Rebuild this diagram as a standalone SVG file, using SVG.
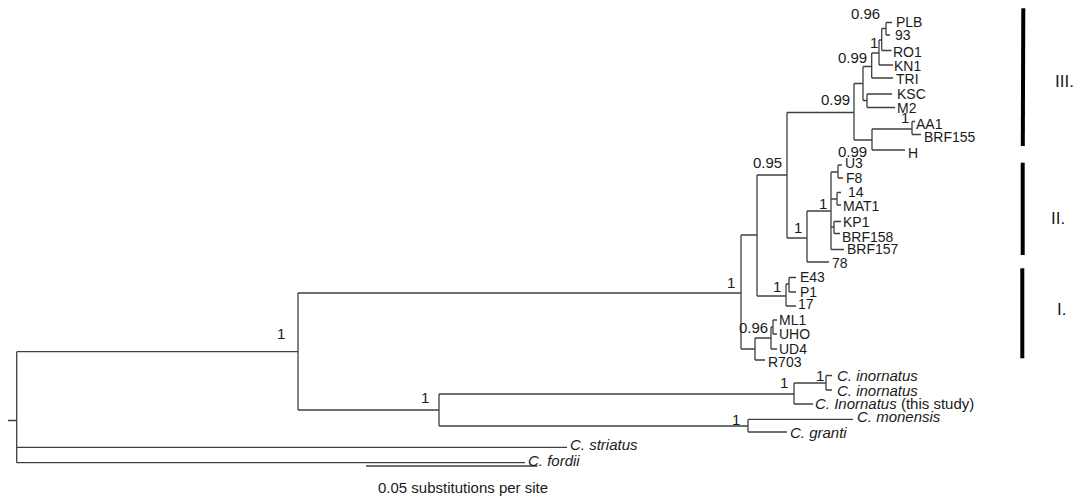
<svg xmlns="http://www.w3.org/2000/svg" width="1079" height="499" viewBox="0 0 1079 499">
<style>
.br{fill:none;stroke:#404040;stroke-width:1.3}
.tip{font-family:"Liberation Sans",Arial,sans-serif;font-size:14px;fill:#1a1a1a}
.sp{font-family:"Liberation Sans",Arial,sans-serif;font-size:15px;font-style:italic;fill:#1a1a1a}
.sup{font-family:"Liberation Sans",Arial,sans-serif;font-size:15px;fill:#1a1a1a}
.sc{font-family:"Liberation Sans",Arial,sans-serif;font-size:15px;fill:#1a1a1a}
.cl{font-family:"Liberation Sans",Arial,sans-serif;font-size:17px;fill:#1a1a1a}
.bar{stroke:#000;stroke-width:4;fill:none}
</style>
<rect width="1079" height="499" fill="#fff"/>
<g id="connectors" class="br">
<path d="M8 420.5H16.7M16.7 351.7V462.7M16.7 351.7H298M16.7 447.3H567M16.7 462.7H525"/>
<path d="M298 293V410M298 293H741M298 410H439M439 394V426M439 394H794M439 426H748"/>
<path d="M794 383V404M794 383H826M794 404H813M826 375.5V390M826 375.5H832M826 390H832"/>
<path d="M748 419.3V432M748 419.3H853M748 432H787"/>
<path d="M741 235V349M741 235H757M741 349H755M755 338V360M755 360H765M755 338H771M771 327V349M771 349H777M771 327H773M773 320V334M773 320H777M773 334H777"/>
<path d="M757 175V296M757 175H787M757 296H786M786 284V306M786 306H796M786 284H789M789 277.5V292M789 277.5H796M789 292H796"/>
<path d="M787 112.5V238M787 112.5H854M787 238H807M807 211V262M807 262H829M807 211H831M831 172V249.5M831 172H838M838 165V178M838 165H842M838 178H843M831 199H837M837 192.5V205M837 192.5H841M837 205H841M831 227H834M834 221.5V233.5M834 221.5H841M834 233.5H840M831 249.5H844"/>
<path d="M854 83.5V140M854 83.5H863M854 140H872M863 66.5V100.5M863 66.5H871.7M863 100.5H867M867 94V107.5M867 94H892M867 107.5H895M871.7 53V78M871.7 78H893M871.7 53H879M879 40V65M879 65H893M879 40H881.7M881.7 28.5V50.5M881.7 50.5H891.5M881.7 28.5H886M886 22.5V35M886 22.5H892M886 35H890M872 129V150M872 150H905M872 129H912M912 121.5V134.5M912 121.5H915M912 134.5H921"/>
<path d="M366 466H537.5"/>
</g>
<g id="tips">
<g id="tip-PLB"><text class="tip" x="896" y="27">PLB</text></g>
<g id="tip-93"><text class="tip" x="895" y="40">93</text></g>
<g id="tip-RO1"><text class="tip" x="893" y="57">RO1</text></g>
<g id="tip-KN1"><text class="tip" x="894" y="71">KN1</text></g>
<g id="tip-TRI"><text class="tip" x="896" y="84">TRI</text></g>
<g id="tip-KSC"><text class="tip" x="897" y="99">KSC</text></g>
<g id="tip-M2"><text class="tip" x="897" y="113">M2</text></g>
<g id="tip-AA1"><text class="tip" x="916" y="129">AA1</text></g>
<g id="tip-BRF155"><text class="tip" x="924" y="142">BRF155</text></g>
<g id="tip-H"><text class="tip" x="908" y="158">H</text></g>
<g id="tip-U3"><text class="tip" x="845" y="168">U3</text></g>
<g id="tip-F8"><text class="tip" x="846" y="183">F8</text></g>
<g id="tip-14"><text class="tip" x="848" y="197">14</text></g>
<g id="tip-MAT1"><text class="tip" x="843" y="211">MAT1</text></g>
<g id="tip-KP1"><text class="tip" x="843" y="227">KP1</text></g>
<g id="tip-BRF158"><text class="tip" x="842" y="242">BRF158</text></g>
<g id="tip-BRF157"><text class="tip" x="847" y="254">BRF157</text></g>
<g id="tip-78"><text class="tip" x="832" y="268">78</text></g>
<g id="tip-E43"><text class="tip" x="800" y="282">E43</text></g>
<g id="tip-P1"><text class="tip" x="800" y="297">P1</text></g>
<g id="tip-17"><text class="tip" x="798" y="309">17</text></g>
<g id="tip-ML1"><text class="tip" x="779" y="325">ML1</text></g>
<g id="tip-UHO"><text class="tip" x="779" y="339">UHO</text></g>
<g id="tip-UD4"><text class="tip" x="779" y="354">UD4</text></g>
<g id="tip-R703"><text class="tip" x="768" y="367">R703</text></g>
<g id="tip-inornatus1"><text class="sp" x="837" y="381">C. inornatus</text></g>
<g id="tip-inornatus2"><text class="sp" x="837" y="396">C. inornatus</text></g>
<g id="tip-inornatus3"><text class="sp" x="815" y="409">C. Inornatus<tspan font-style="normal"> (this study)</tspan></text></g>
<g id="tip-monensis"><text class="sp" x="857" y="422">C. monensis</text></g>
<g id="tip-granti"><text class="sp" x="790" y="438">C. granti</text></g>
<g id="tip-striatus"><text class="sp" x="570" y="450">C. striatus</text></g>
<g id="tip-fordii"><text class="sp" x="528" y="466">C. fordii</text></g>
</g>
<g id="support">
<text class="sup" x="851" y="19">0.96</text>
<text class="sup" x="870" y="48">1</text>
<text class="sup" x="838" y="63">0.99</text>
<text class="sup" x="821" y="105">0.99</text>
<text class="sup" x="901" y="123">1</text>
<text class="sup" x="838" y="157">0.99</text>
<text class="sup" x="753" y="168">0.95</text>
<text class="sup" x="819" y="209">1</text>
<text class="sup" x="794" y="233">1</text>
<text class="sup" x="727" y="288">1</text>
<text class="sup" x="773" y="292">1</text>
<text class="sup" x="739" y="333">0.96</text>
<text class="sup" x="277" y="339">1</text>
<text class="sup" x="421" y="403">1</text>
<text class="sup" x="780" y="388">1</text>
<text class="sup" x="816" y="381">1</text>
<text class="sup" x="732" y="425">1</text>
</g>
<g id="scale"><text class="sc" x="378" y="493">0.05 substitutions per site</text></g>
<g id="clade-III"><path class="bar" d="M1023.3 8.3L1022.8 146"/><text class="cl" x="1055" y="87">III.</text></g>
<g id="clade-II"><path class="bar" d="M1022.7 162.7V255"/><text class="cl" x="1051" y="224">II.</text></g>
<g id="clade-I"><path class="bar" d="M1022.3 268.3V358.3"/><text class="cl" x="1057" y="315">I.</text></g>
</svg>
